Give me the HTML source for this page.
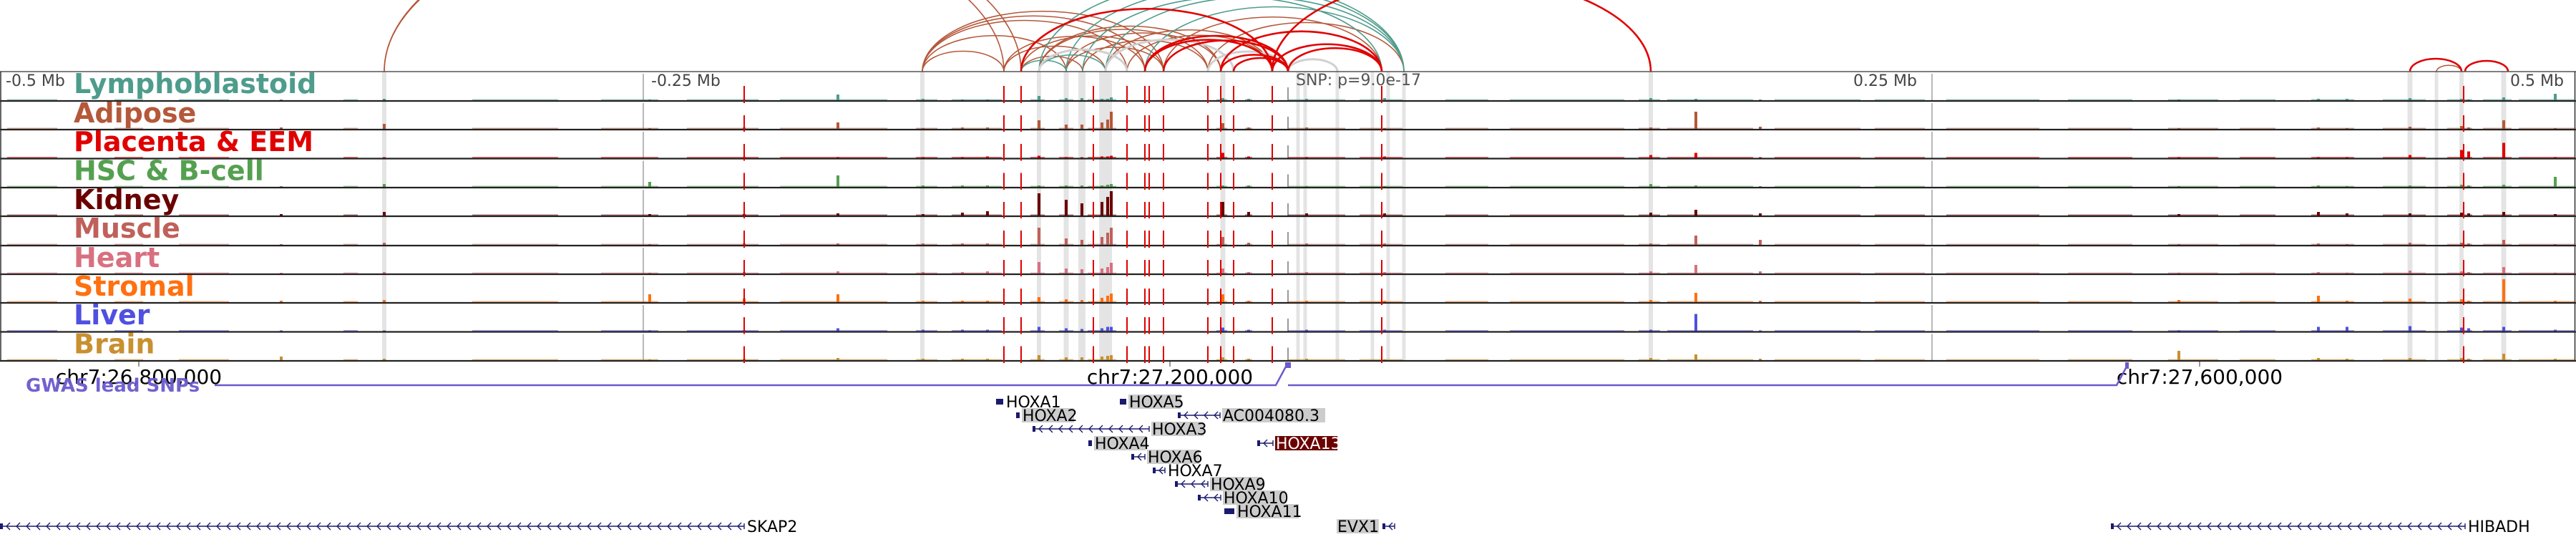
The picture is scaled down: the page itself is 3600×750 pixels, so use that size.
<!DOCTYPE html>
<html><head><meta charset="utf-8"><style>
html,body{margin:0;padding:0;background:#fff;}
svg{display:block;font-family:"DejaVu Sans","Liberation Sans",sans-serif;}
</style></head><body>
<svg id="chart" width="3600" height="750" viewBox="0 0 3600 750" xmlns="http://www.w3.org/2000/svg">
<g id="arcs"></g>
<g id="bands"></g>
<g id="tracks"></g>
<g id="vlines"></g>
<g id="labels"></g>
<g id="axis">
  <text x="8" y="120" font-size="22" fill="#444">-0.5 Mb</text>
  <text x="910" y="120" font-size="22" fill="#444">-0.25 Mb</text>
  <text x="2590" y="120" font-size="22" fill="#444">0.25 Mb</text>
  <text x="3508" y="120" font-size="22" fill="#444">0.5 Mb</text>
  <text x="1811" y="119" font-size="22" fill="#555">SNP: p=9.0e-17</text>
  <line x1="194" y1="504" x2="194" y2="512" stroke="#333" stroke-width="1"/>
  <line x1="1635" y1="504" x2="1635" y2="512" stroke="#333" stroke-width="1"/>
  <line x1="3074" y1="504" x2="3074" y2="512" stroke="#333" stroke-width="1"/>
  <text x="194" y="536" font-size="28" text-anchor="middle" fill="#000">chr7:26,800,000</text>
  <text x="1635" y="536" font-size="28" text-anchor="middle" fill="#000">chr7:27,200,000</text>
  <text x="3074" y="536" font-size="28" text-anchor="middle" fill="#000">chr7:27,600,000</text>
</g>
<g id="gwas">
  <polyline points="300,538 1783,538 1797,512 1800,512" fill="none" stroke="#6a5acd" stroke-width="2.5"/>
  <polyline points="1800,538 2958,538 2972,512" fill="none" stroke="#6a5acd" stroke-width="2.5"/>
  <rect x="1796" y="506" width="8" height="8" fill="#6a5acd"/>
  <rect x="2970" y="506" width="5" height="9" fill="#6a5acd"/>
  <text x="36" y="547" font-size="26" font-weight="bold" fill="#6a5acd" opacity="0.95">GWAS lead SNPs</text>
</g>
<g id="genes"></g>
</svg>
<script>
const NS="http://www.w3.org/2000/svg";
function mk(tag,attrs,parent){const e=document.createElementNS(NS,tag);for(const k in attrs)e.setAttribute(k,attrs[k]);parent.appendChild(e);return e;}

// ---- data ----
const trackNames=["Lymphoblastoid","Adipose","Placenta & EEM","HSC & B-cell","Kidney","Muscle","Heart","Stromal","Liver","Brain"];
const trackColors=["#4e9c8c","#b5583a","#e00000","#55a050","#6b0000","#c0605a","#d87080","#ff7010","#5050e0","#c89030"];
const peakPos=[393,537,908,1040,1171,1290,1345,1380,1452,1490,1512,1540,1548,1553,1709,1745,1826,1935,2307,2370,2460,3045,3240,3280,3368,3440,3450,3499,3571];
const hLympho=[2,3,2,2,9,3,2,2,7,4,4,3,3,5,4,3,3,4,4,3,2,2,3,3,4,3,2,5,10];
const hAdipose=[3,8,2,3,10,2,3,3,13,7,7,10,14,25,9,3,3,2,3,25,4,2,3,2,4,5,3,13,2];
const hPlacenta=[1,2,1,2,2,2,2,3,4,2,2,3,3,4,8,3,2,3,5,8,2,2,2,2,5,12,10,22,2];
const hHSC=[2,5,8,2,17,3,3,3,3,3,3,3,4,5,3,3,2,2,5,3,2,2,3,2,3,4,3,4,15];
const hKidney=[3,6,3,3,4,3,5,7,32,23,18,20,27,35,20,6,4,4,5,9,4,3,6,4,4,5,4,6,3];
const hMuscle=[2,4,2,3,3,3,3,3,25,10,8,12,18,25,12,4,3,3,3,14,8,2,3,2,4,4,3,8,2];
const hHeart=[2,3,2,3,4,3,3,4,17,8,7,8,10,16,8,3,3,3,4,13,4,2,3,2,5,4,3,10,2];
const hStromal=[3,4,12,6,12,3,3,3,8,5,4,7,10,13,12,3,3,3,4,14,3,4,10,3,6,5,3,33,3];
const hLiver=[2,2,2,2,5,3,3,3,7,5,4,5,7,7,6,3,3,3,3,25,2,2,7,7,8,6,5,7,3];
const hBrain=[6,3,2,3,4,3,3,3,8,5,5,6,7,8,5,3,3,2,4,9,3,14,4,3,4,4,3,10,3];
const trackHeights=[hLympho,hAdipose,hPlacenta,hHSC,hKidney,hMuscle,hHeart,hStromal,hLiver,hBrain];
const baseStart=[10,160,250,480,660,840,960,1090,1280,1330,1440,1480,1520,1700,1740,1800,1900,2020,2110,2290,2330,2480,2620,2720,2890,3030,3130,3230,3330,3420,3470,3520];
const baseEnd=[80,200,320,500,780,920,1060,1240,1310,1400,1460,1500,1560,1715,1750,1880,1960,2080,2270,2320,2450,2600,2690,2850,2980,3100,3180,3290,3390,3455,3510,3598];
const redLines=[1040,1403,1427,1528,1575,1600,1606,1626,1688,1706,1724,1778,1931,3443];
const bandPos=[537,1289,1452,1490,1512,1545,1709,1814,1824,1869,1918,1940,1962,2307,3368,3405,3440,3499];
const bandWidth=[6,6,6,7,10,18,7,5,5,5,5,5,5,6,7,5,6,7];
const arcFrom=[537,537,1289,1289,1289,1289,1289,1403,1403,1427,1452,1452,1490,1490,1513,1545,1545,1575,1600,1427,1626,1688,1706,1452,1490,1513,1545,1427,1452,1600,1545,1688,1800,1452,1427,1600,1626,1706,1724,1778,1600,1706,1778,1800,3368,3445,3405];
const arcTo=[1403,1427,1403,1490,1575,1600,1626,1545,1600,1626,1688,1706,1626,1706,1688,1724,1778,1778,1800,1513,1931,1962,1931,1962,1962,1931,1962,1490,1545,1962,1724,1800,1869,1575,1778,1800,1800,1800,1800,1931,1778,1931,2307,1931,3440,3505,3440];
const arcType=["b","b","b","b","b","b","b","b","b","b","b","b","b","b","b","b","b","b","b","b","b","b","b","t","t","t","t","t","t","t","g","g","g","g","r","r","r","r","r","r","r","r","r","r","r","r","b"];
const geneNames=["HOXA1","HOXA2","HOXA3","HOXA4","HOXA5","AC004080.3","HOXA6","HOXA7","HOXA9","HOXA10","HOXA11","HOXA13","EVX1","SKAP2","HIBADH"];
const geneStart=[1392,1420,1443,1521,1565,1646,1581,1611,1642,1674,1711,1757,1932,0,2950];
const geneEnd=[1402,1425,1606,1526,1574,1705,1600,1628,1688,1706,1725,1779,1949,1040,3445];
const geneRow=[0,1,2,3,0,1,4,5,6,7,8,3,9,9,9];
const geneLabelStyle=["plain","gray","gray","gray","gray","gray","gray","plain","gray","gray","gray","red","gray-left","plain","plain"];

// ---- layout ----
const rowTop=[100,141,181,221.5,262,302,343,383,423,463.5];
const rowBottom=[141,181,221.5,262,302,343,383,423,463.5,504];
const arcColors={b:"#b5583a",t:"#4e9c8c",g:"#d0d0d0",r:"#e00000"};
const arcWidths={b:1.6,t:1.6,g:3,r:2.6};
const baseY=100;

const arcsG=document.getElementById("arcs");
["b","t","g","r"].forEach(tp=>{
  arcFrom.forEach((x1,i)=>{
    if(arcType[i]!==tp)return;
    const x2=arcTo[i];const rx=(x2-x1)/2;const ry=rx*0.5;
    const p=mk("path",{d:`M${x1},${baseY} A${rx},${ry} 0 0 1 ${x2},${baseY}`,fill:"none",stroke:arcColors[tp],"stroke-width":arcWidths[tp]},arcsG);
    
    
  });
});

const bandsG=document.getElementById("bands");
bandPos.forEach((x,i)=>{
  const r=mk("rect",{x:x-bandWidth[i]/2,y:100,width:bandWidth[i],height:404,fill:"#e4e4e4"},bandsG);
  
  
});

const tracksG=document.getElementById("tracks");
trackNames.forEach((nm,ti)=>{
  const g=mk("g",{},tracksG);
  
  
  const bot=rowBottom[ti];
  [899,2700].forEach(x=>{const l=mk("line",{x1:x,y1:rowTop[ti]+3,x2:x,y2:bot,stroke:"#888","stroke-width":1.2},g);
    
    });
  const sl=mk("line",{x1:1800,y1:rowTop[ti]+22,x2:1800,y2:bot,stroke:"#777","stroke-width":1.5},g);
  
  
  baseStart.forEach((s,i)=>{
    const r=mk("rect",{x:s,y:bot-2.5,width:baseEnd[i]-s,height:1.5,fill:trackColors[ti],opacity:0.55},g);
    
    
  });
  trackHeights[ti].forEach((h,i)=>{
    const r=mk("rect",{x:peakPos[i]-2,y:bot-h,width:4,height:h,fill:trackColors[ti]},g);
    
    
  });
});
rowBottom.forEach((y,i)=>{
  const l=mk("line",{x1:0,y1:y,x2:3600,y2:y,stroke:"#222","stroke-width":2.2},tracksG);
  
  
});
const topL=mk("line",{x1:0,y1:100,x2:3600,y2:100,stroke:"#555","stroke-width":1.5},tracksG);


const lb=mk("line",{x1:1,y1:100,x2:1,y2:504,stroke:"#333","stroke-width":1.5},tracksG);


const rb=mk("line",{x1:3598.5,y1:100,x2:3598.5,y2:504,stroke:"#333","stroke-width":1.5},tracksG);



const vG=document.getElementById("vlines");
redLines.forEach(x=>{
  rowTop.forEach((t,ti)=>{
    const l=mk("line",{x1:x,y1:t+20,x2:x,y2:rowBottom[ti]+3,stroke:"#e00000","stroke-width":2},vG);
    
    
  });
});

const labG=document.getElementById("labels");
trackNames.forEach((nm,ti)=>{
  const t=mk("text",{x:103,y:rowTop[ti]+30,"font-size":38,"font-weight":"bold",fill:trackColors[ti]},labG);
  t.textContent=nm;
  
  
});

const genesG=document.getElementById("genes");
const rowY=[561,580,599,619,638,657,676,695,714,735];
geneNames.forEach((nm,i)=>{
  const g=mk("g",{},genesG);
  
  
  const y=rowY[geneRow[i]];const s=geneStart[i],e=geneEnd[i];
  mk("line",{x1:s,y1:y,x2:e,y2:y,stroke:"#1a1a6e","stroke-width":1.6},g);
  const w=e-s;
  if(w>14){
    for(let x=s+9;x<e-4;x+=14){
      mk("path",{d:`M${x+5},${y-5} L${x},${y} L${x+5},${y+5}`,fill:"none",stroke:"#1a1a6e","stroke-width":1.4},g);
    }
    mk("rect",{x:s,y:y-4,width:4,height:8,fill:"#1a1a6e"},g);
    mk("line",{x1:e,y1:y-4,x2:e,y2:y+4,stroke:"#1a1a6e","stroke-width":1.4},g);
  } else {
    mk("rect",{x:s,y:y-4,width:w,height:8,fill:"#1a1a6e"},g);
  }
  const st=geneLabelStyle[i];
  let tx=e+4;
  if(st==="gray-left"){tx=1869;}
  const approxW=nm.length*14.2+2;
  if(st==="gray"||st==="gray-left"){mk("rect",{x:tx-1,y:y-10,width:approxW,height:20,fill:"#cccccc"},g);}
  if(st==="red"){mk("rect",{x:tx-1,y:y-10,width:approxW,height:20,fill:"#6b0000"},g);}
  const t=mk("text",{x:tx,y:y+8,"font-size":22,fill:st==="red"?"#fff":"#000"},g);
  t.textContent=nm;
});
</script>
</body></html>
